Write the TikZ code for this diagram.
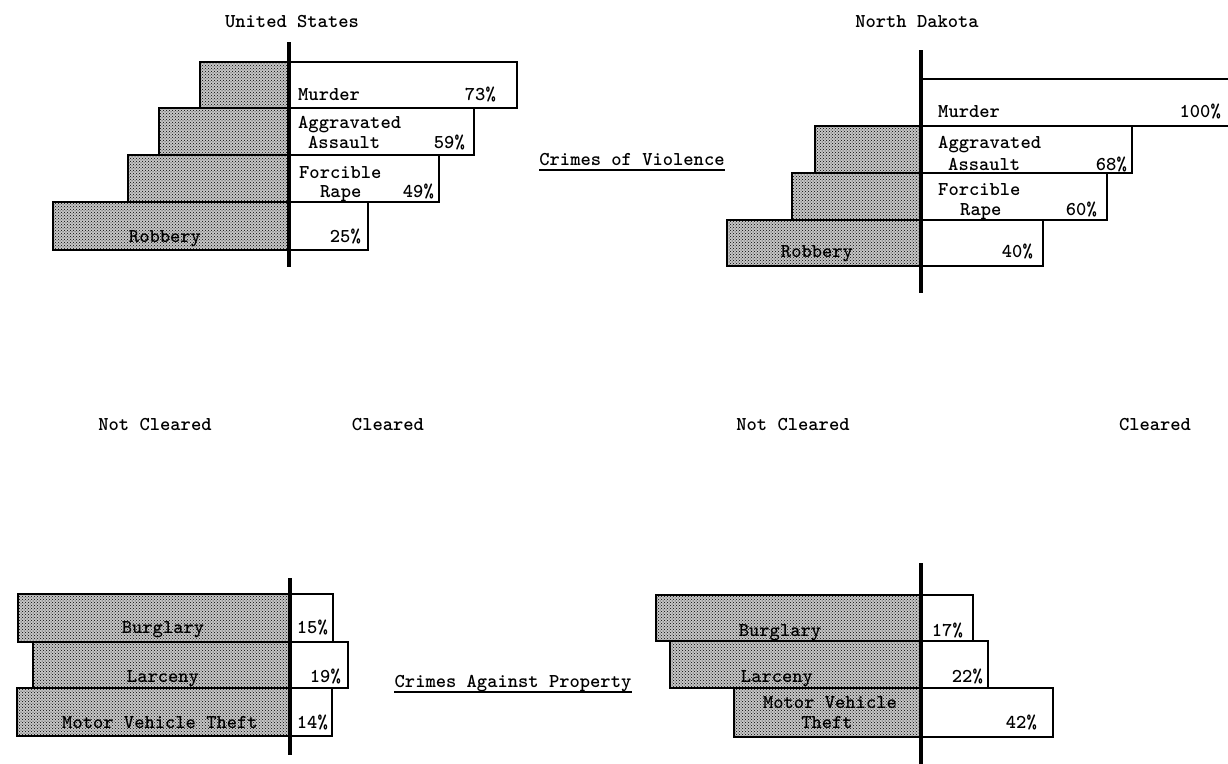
\documentclass[tikz,border=0pt]{standalone}
\usetikzlibrary{patterns}
\newcommand\lbfont{\ttfamily\bfseries\fontsize{19.6}{22}\selectfont}
\begin{document}
\begin{tikzpicture}[x=1pt,y=-1pt,
  axisline/.style={line width=3.5pt},
  clr/.style={draw=black,line width=1.8pt,fill=white},
  nclr/.style={draw=black,line width=2.4pt,preaction={fill=gray!45},pattern=crosshatch dots,pattern color=black},
  lbl/.style={font=\lbfont,inner sep=0pt,text=black},
  uline/.style={line width=1.4pt}]
\useasboundingbox (0,0) rectangle (1228,763);
\fill[white] (0,0) rectangle (1228,763);

% ---------- United States, crimes of violence
\draw[clr] (289,62) rectangle (517,108);
\draw[clr] (289,108) rectangle (474,155);
\draw[clr] (289,155) rectangle (439,202);
\draw[clr] (289,202) rectangle (368,250);
\draw[nclr] (200,62) rectangle (289,108);
\draw[nclr] (159,108) rectangle (289,155);
\draw[nclr] (128,155) rectangle (289,202);
\draw[nclr] (53,202) rectangle (289,250);
\draw[axisline] (289,42) -- (289,267);

\node[lbl,anchor=base] (us) at (292,27) {United States};
\node[lbl,anchor=base west] (usm) at (298,100) {Murder};
\node[lbl,anchor=base east] (usmp) at (496,100) {73\%};
\node[lbl,anchor=base west] (usa1) at (298,128) {Aggravated};
\node[lbl,anchor=base west] (usa2) at (308,148) {Assault};
\node[lbl,anchor=base east] (usap) at (465,148) {59\%};
\node[lbl,anchor=base west] (usr1) at (299,178) {Forcible};
\node[lbl,anchor=base west] (usr2) at (320,197) {Rape};
\node[lbl,anchor=base east] (usrp) at (434,197) {49\%};
\node[lbl,anchor=base] (usb) at (165,242) {Robbery};
\node[lbl,anchor=base east] (usbp) at (361,242) {25\%};

% ---------- North Dakota, crimes of violence
\draw[clr] (1235,79) -- (921,79) -- (921,126) -- (1235,126);
\draw[clr] (921,126) rectangle (1132,173);
\draw[clr] (921,173) rectangle (1107,220);
\draw[clr] (921,220) rectangle (1043,266);
\draw[nclr] (815,126) rectangle (921,173);
\draw[nclr] (792,173) rectangle (921,220);
\draw[nclr] (727,220) rectangle (921,266);
\draw[axisline] (921,50) -- (921,293);

\node[lbl,anchor=base] (nd) at (917,27) {North Dakota};
\node[lbl,anchor=base west] (ndm) at (938,117) {Murder};
\node[lbl,anchor=base east] (ndmp) at (1221,117) {100\%};
\node[lbl,anchor=base west] (nda1) at (938,148) {Aggravated};
\node[lbl,anchor=base west] (nda2) at (948,170) {Assault};
\node[lbl,anchor=base east] (ndap) at (1127,170) {68\%};
\node[lbl,anchor=base west] (ndr1) at (938,195) {Forcible};
\node[lbl,anchor=base west] (ndr2) at (960,215) {Rape};
\node[lbl,anchor=base east] (ndrp) at (1097,215) {60\%};
\node[lbl,anchor=base] (ndb) at (817,257) {Robbery};
\node[lbl,anchor=base east] (ndbp) at (1033,257) {40\%};

% ---------- section titles
\node[lbl,anchor=base] (cv) at (632,165) {Crimes of Violence};
\draw[uline] ([yshift=-5pt]cv.base west) -- ([yshift=-5pt]cv.base east);
\node[lbl,anchor=base] (cp) at (513,687) {Crimes Against Property};
\draw[uline] ([yshift=-5pt]cp.base west) -- ([yshift=-5pt]cp.base east);

\node[lbl,anchor=base] (nc1) at (155,430) {Not Cleared};
\node[lbl,anchor=base] (c1) at (388,430) {Cleared};
\node[lbl,anchor=base] (nc2) at (793,430) {Not Cleared};
\node[lbl,anchor=base] (c2) at (1155,430) {Cleared};

% ---------- United States, property
\draw[clr] (290,594) rectangle (333,642);
\draw[clr] (290,642) rectangle (348,688);
\draw[clr] (290,688) rectangle (332,736);
\draw[nclr] (18,594) rectangle (290,642);
\draw[nclr] (33,642) rectangle (290,688);
\draw[nclr] (17,688) rectangle (290,736);
\draw[axisline] (290,578) -- (290,755);

\node[lbl,anchor=base] (usbg) at (163,633) {Burglary};
\node[lbl,anchor=base east] (usbgp) at (328,633) {15\%};
\node[lbl,anchor=base] (usl) at (163,682) {Larceny};
\node[lbl,anchor=base east] (uslp) at (341,682) {19\%};
\node[lbl,anchor=base] (usv) at (160,728) {Motor Vehicle Theft};
\node[lbl,anchor=base east] (usvp) at (328,728) {14\%};

% ---------- North Dakota, property
\draw[clr] (921,595) rectangle (973,641);
\draw[clr] (921,641) rectangle (988,688);
\draw[clr] (921,688) rectangle (1053,737);
\draw[nclr] (656,595) rectangle (921,641);
\draw[nclr] (670,641) rectangle (921,688);
\draw[nclr] (734,688) rectangle (921,737);
\draw[axisline] (921,563) -- (921,768);

\node[lbl,anchor=base] (ndbg) at (780,636) {Burglary};
\node[lbl,anchor=base east] (ndbgp) at (963,636) {17\%};
\node[lbl,anchor=base] (ndl) at (777,682) {Larceny};
\node[lbl,anchor=base east] (ndlp) at (983,682) {22\%};
\node[lbl,anchor=base] (ndv1) at (830,708) {Motor Vehicle};
\node[lbl,anchor=base] (ndv2) at (827,728) {Theft};
\node[lbl,anchor=base east] (ndvp) at (1037,728) {42\%};
\end{tikzpicture}
\end{document}
